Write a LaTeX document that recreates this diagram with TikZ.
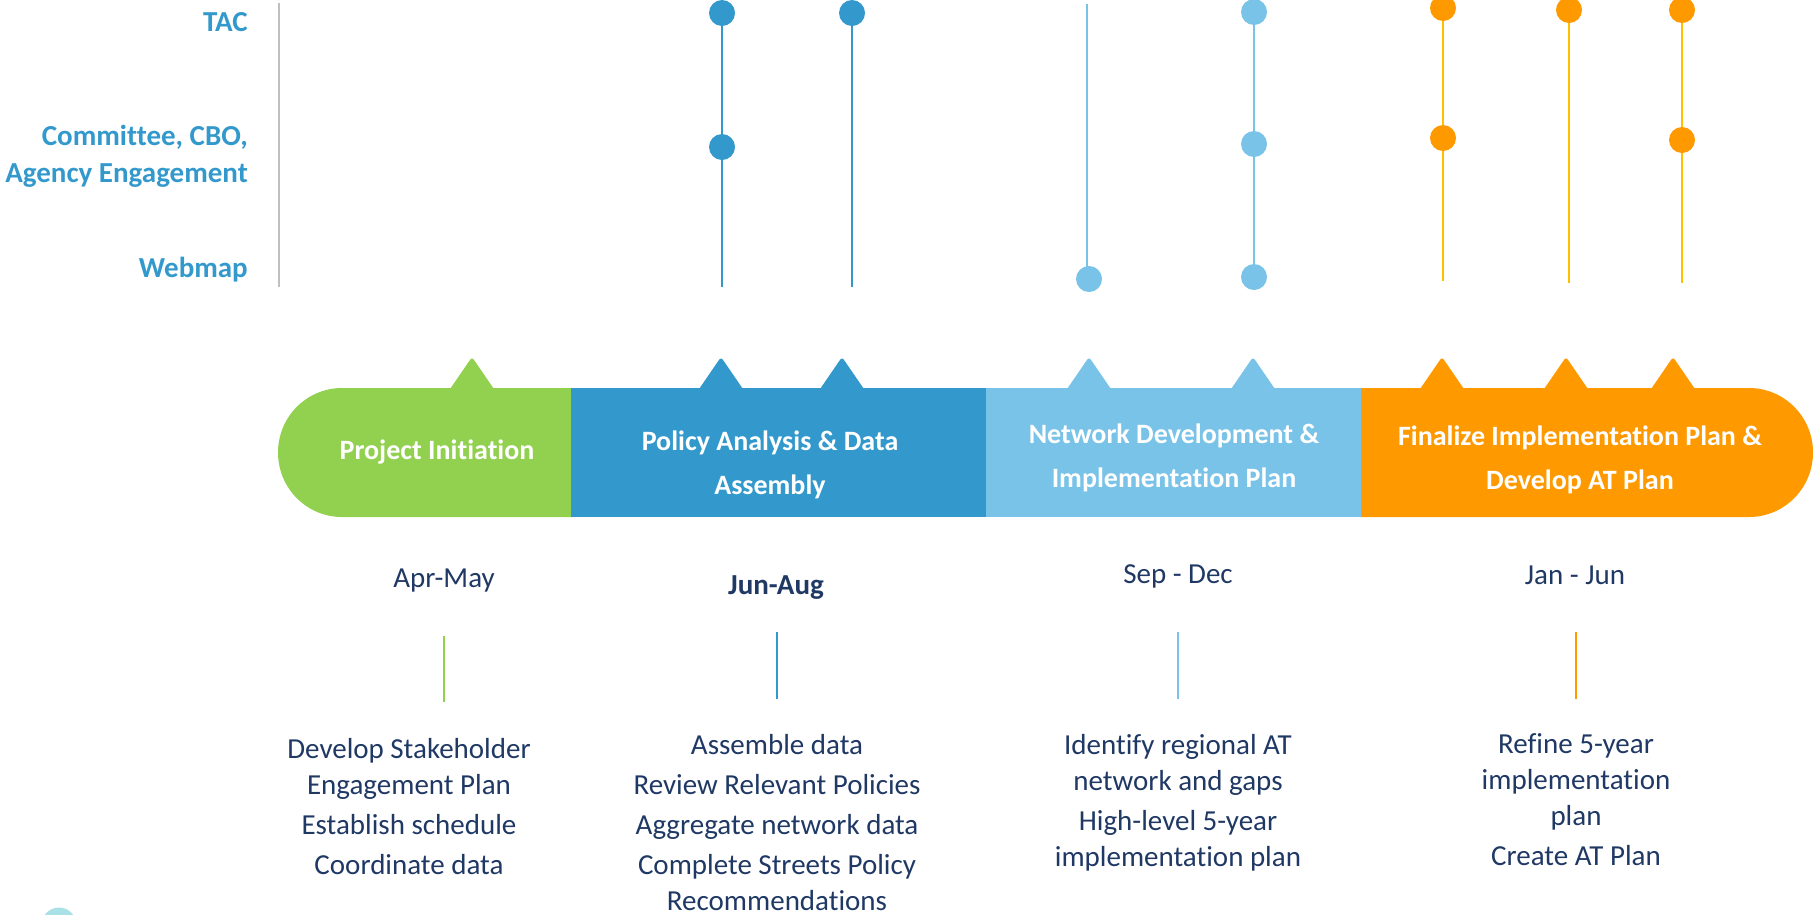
\documentclass[tikz,border=0pt]{standalone}
\usepackage{fontspec}
\setmainfont{Carlito}[Ligatures={NoCommon,NoContextual}]
\usepackage{tikz}
\definecolor{tlgreen}{RGB}{146,208,80}
\definecolor{tlblue}{RGB}{51,153,204}
\definecolor{tllight}{RGB}{122,195,232}
\definecolor{tlorange}{RGB}{255,153,0}
\definecolor{tlgold}{RGB}{255,192,0}
\definecolor{tlnavy}{RGB}{31,56,100}
\definecolor{tlgray}{RGB}{191,191,191}
\definecolor{tlcyan}{RGB}{170,225,230}
\tikzset{
	rowlabel/.style={anchor=east, align=right, text=tlblue, inner sep=0pt, font=\fontsize{29}{37}\selectfont\bfseries},
	dot/.style={circle, fill=#1, minimum size=26pt, inner sep=0pt},
	stalk/.style={draw=#1, line width=2pt},
	phase/.style={text=white, align=center, inner sep=0pt, font=\fontsize{28}{44}\selectfont\bfseries},
	period/.style={text=tlnavy, inner sep=0pt, font=\fontsize{29}{35}\selectfont},
	tasks/.style={anchor=north, text=tlnavy, align=center, inner sep=0pt, font=\fontsize{29}{36}\selectfont},
	notch/.style={fill=#1, rounded corners=3pt},
}
\begin{document}
\begin{tikzpicture}[x=1pt, y=-1pt]
			\useasboundingbox (0,0) rectangle (1815,914);
			\clip (0,0) rectangle (1815,914);
			\coordinate (axtop) at (279,3);
			\coordinate (axend) at (279,287);
			\draw[tlgray, line width=2pt] (axtop) -- (axend);
			\node[rowlabel] (tac) at (248,22) {TAC};
			\node[rowlabel] (com) at (248,156) {Committee, CBO,\\Agency Engagement};
			\node[rowlabel] (web) at (248,270) {Webmap};
			\coordinate (c1top) at (722,13);
			\coordinate (c1end) at (722,287);
			\coordinate (c2top) at (852,13);
			\coordinate (c2end) at (852,287);
			\coordinate (c3top) at (1087,4);
			\coordinate (c3end) at (1087,279);
			\coordinate (c4top) at (1254,12);
			\coordinate (c4end) at (1254,277);
			\coordinate (c5top) at (1443,8);
			\coordinate (c5end) at (1443,281);
			\coordinate (c6top) at (1569,10);
			\coordinate (c6end) at (1569,283);
			\coordinate (c7top) at (1682,10);
			\coordinate (c7end) at (1682,283);
			\draw[stalk=tlblue] (c1top) -- (c1end);
			\draw[stalk=tlblue] (c2top) -- (c2end);
			\draw[stalk=tllight] (c3top) -- (c3end);
			\draw[stalk=tllight] (c4top) -- (c4end);
			\draw[stalk=tlgold] (c5top) -- (c5end);
			\draw[stalk=tlgold] (c6top) -- (c6end);
			\draw[stalk=tlgold] (c7top) -- (c7end);
			\node[dot=tlblue] (c1tac) at (c1top) {};
			\node[dot=tlblue] (c1com) at (722,147) {};
			\node[dot=tlblue] (c2tac) at (c2top) {};
			\node[dot=tllight] (c3web) at (1089,279) {};
			\node[dot=tllight] (c4tac) at (c4top) {};
			\node[dot=tllight] (c4com) at (1254,144) {};
			\node[dot=tllight] (c4web) at (c4end) {};
			\node[dot=tlorange] (c5tac) at (c5top) {};
			\node[dot=tlorange] (c5com) at (1443,138) {};
			\node[dot=tlorange] (c6tac) at (c6top) {};
			\node[dot=tlorange] (c7tac) at (c7top) {};
			\node[dot=tlorange] (c7com) at (1682,140) {};
			\fill[tlgreen] (572,388) -- (342,388) arc[start angle=270, end angle=90, x radius=64, y radius=64.5] -- (572,517) -- cycle;
			\fill[tlblue] (571,388) rectangle (987,517);
			\fill[tllight] (986,388) rectangle (1362,517);
			\fill[tlorange] (1361,388) -- (1749,388) arc[start angle=270, end angle=450, x radius=64, y radius=64.5] -- (1361,517) -- cycle;
			\fill[notch=tlgreen] (448,392) -- (472,357) -- (496,392) -- cycle;
			\fill[notch=tlblue] (697,392) -- (721,357) -- (745,392) -- cycle;
			\fill[notch=tlblue] (818,392) -- (842,357) -- (866,392) -- cycle;
			\fill[notch=tllight] (1065,392) -- (1089,357) -- (1113,392) -- cycle;
			\fill[notch=tllight] (1229,392) -- (1253,357) -- (1277,392) -- cycle;
			\fill[notch=tlorange] (1418,392) -- (1442,357) -- (1466,392) -- cycle;
			\fill[notch=tlorange] (1542,392) -- (1566,357) -- (1590,392) -- cycle;
			\fill[notch=tlorange] (1649,392) -- (1673,357) -- (1697,392) -- cycle;
			\node[phase] (init) at (437,452) {Project Initiation};
			\node[phase] (policy) at (770,465) {Policy Analysis \& Data\\Assembly};
			\node[phase] (network) at (1174,458) {Network Development \&\\Implementation Plan};
			\node[phase] (final) at (1580,460) {Finalize Implementation Plan \&\\Develop AT Plan};
			\node[period] (apr) at (444,581) {Apr-May};
			\node[period, font=\fontsize{29}{35}\selectfont\bfseries] (jun) at (776,588) {Jun-Aug};
			\node[period] (sep) at (1178,576) {Sep - Dec};
			\node[period] (jan) at (1575,575) {Jan - Jun};
			\draw[tlgreen, line width=2pt] (444,636) -- (444,702);
			\draw[tlblue, line width=2pt] (777,632) -- (777,699);
			\draw[tllight, line width=2pt] (1178,632) -- (1178,699);
			\draw[tlorange, line width=2pt] (1576,632) -- (1576,699);
			\node[tasks] (aprlist) at (409,738) {Develop Stakeholder\\Engagement Plan\\[4pt]Establish schedule\\[4pt]Coordinate data};
			\node[tasks] (junlist) at (777,734) {Assemble data\\[4pt]Review Relevant Policies\\[4pt]Aggregate network data\\[4pt]Complete Streets Policy\\Recommendations};
			\node[tasks] (seplist) at (1178,734) {Identify regional AT\\network and gaps\\[4pt]High-level 5-year\\implementation plan};
			\node[tasks] (janlist) at (1576,733) {Refine 5-year\\implementation\\plan\\[4pt]Create AT Plan};
			\fill[tlcyan] (59,925) circle (17.5);
		\end{tikzpicture}
\end{document}
